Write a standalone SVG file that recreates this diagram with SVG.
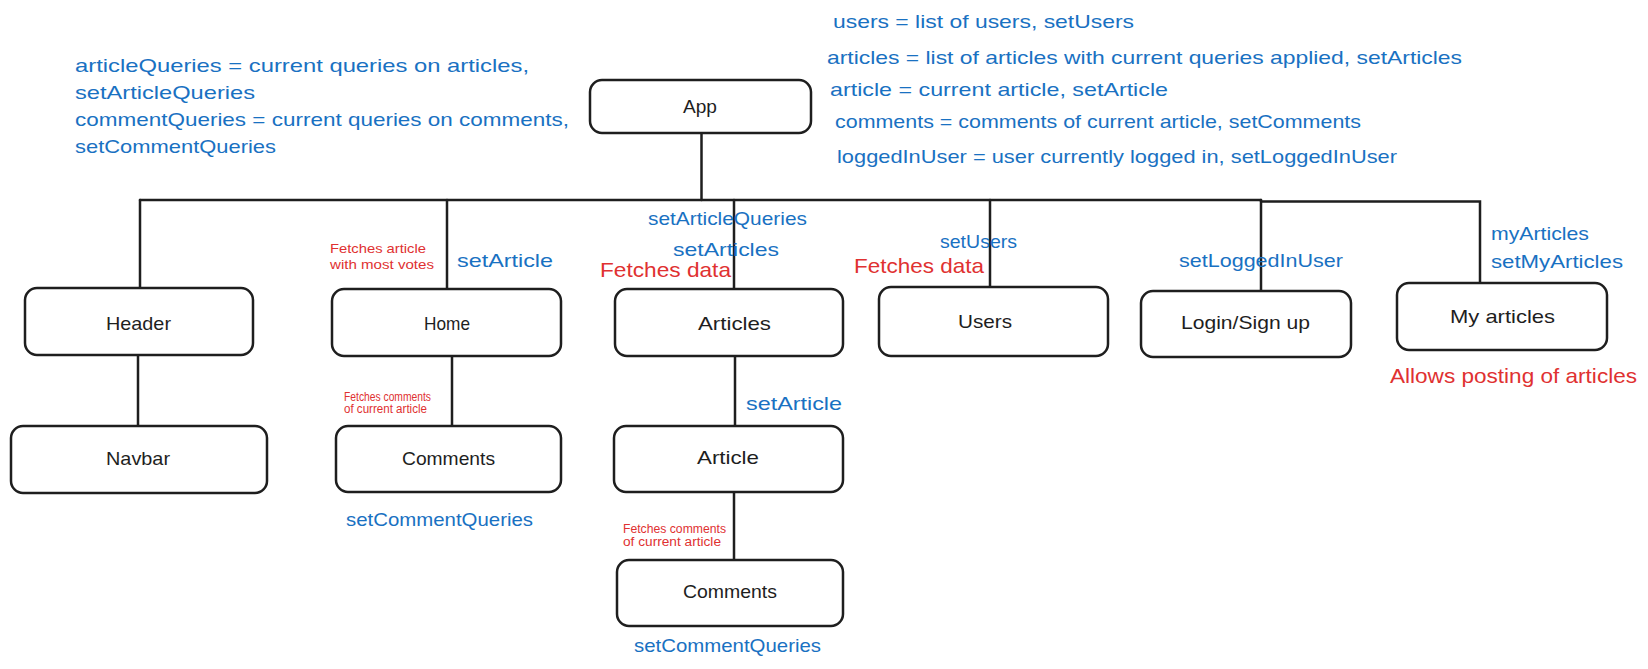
<svg xmlns="http://www.w3.org/2000/svg" width="1648" height="669" viewBox="0 0 1648 669">
<style>
.box{fill:#fff;stroke:#1e1e1e;stroke-width:2.5;}
.ln{fill:none;stroke:#1e1e1e;stroke-width:2.5;stroke-linecap:round;}
text{font-family:"Liberation Sans",Arial,sans-serif;}
.lbl{fill:#1e1e1e;font-size:19px;}
.blue{fill:#1971c2;font-size:19px;}
.red{fill:#e03131;font-size:21px;}
.tiny{fill:#e03131;font-size:12px;}
.small{fill:#e03131;font-size:13px;}
</style>
<rect width="1648" height="669" fill="#fff"/>

<g id="notes">
<text class="blue" x="75" y="72" textLength="454" lengthAdjust="spacingAndGlyphs">articleQueries = current queries on articles,</text>
<text class="blue" x="75" y="99" textLength="180" lengthAdjust="spacingAndGlyphs">setArticleQueries</text>
<text class="blue" x="75" y="126" textLength="494" lengthAdjust="spacingAndGlyphs">commentQueries = current queries on comments,</text>
<text class="blue" x="75" y="153" textLength="201" lengthAdjust="spacingAndGlyphs">setCommentQueries</text>
<text class="blue" x="833" y="28" textLength="301" lengthAdjust="spacingAndGlyphs">users = list of users, setUsers</text>
<text class="blue" x="827" y="64" textLength="635" lengthAdjust="spacingAndGlyphs">articles = list of articles with current queries applied, setArticles</text>
<text class="blue" x="830" y="96" textLength="338" lengthAdjust="spacingAndGlyphs">article = current article, setArticle</text>
<text class="blue" x="835" y="128" textLength="526" lengthAdjust="spacingAndGlyphs">comments = comments of current article, setComments</text>
<text class="blue" x="837" y="163" textLength="560" lengthAdjust="spacingAndGlyphs">loggedInUser = user currently logged in, setLoggedInUser</text>
</g>

<g id="connectors">
<path class="ln" d="M701.5 133 V200"/>
<path class="ln" d="M140 200 H1261"/>
<path class="ln" d="M1261 201.5 H1480 V282"/>
<path class="ln" d="M140 200 V287"/>
<path class="ln" d="M447 200 V289"/>
<path class="ln" d="M734 200 V289"/>
<path class="ln" d="M990 200 V287"/>
<path class="ln" d="M1261 200 V290"/>
<path class="ln" d="M138 356 V426"/>
<path class="ln" d="M452 356 V426"/>
<path class="ln" d="M735 356 V426"/>
<path class="ln" d="M734 493 V559"/>
</g>

<g id="connector-labels">
<text class="blue" x="648" y="225" textLength="159" lengthAdjust="spacingAndGlyphs">setArticleQueries</text>
<text class="blue" x="673" y="256" textLength="106" lengthAdjust="spacingAndGlyphs">setArticles</text>
<text class="red" x="600" y="277" textLength="131" lengthAdjust="spacingAndGlyphs">Fetches data</text>
<text class="small" x="330" y="253" textLength="96" lengthAdjust="spacingAndGlyphs">Fetches article</text>
<text class="small" x="330" y="269" textLength="104" lengthAdjust="spacingAndGlyphs">with most votes</text>
<text class="blue" x="457" y="267" textLength="96" lengthAdjust="spacingAndGlyphs">setArticle</text>
<text class="blue" x="940" y="248" textLength="77" lengthAdjust="spacingAndGlyphs">setUsers</text>
<text class="red" x="854" y="273" textLength="130" lengthAdjust="spacingAndGlyphs">Fetches data</text>
<text class="blue" x="1179" y="267" textLength="164" lengthAdjust="spacingAndGlyphs">setLoggedInUser</text>
<text class="blue" x="1491" y="240" textLength="98" lengthAdjust="spacingAndGlyphs">myArticles</text>
<text class="blue" x="1491" y="268" textLength="132" lengthAdjust="spacingAndGlyphs">setMyArticles</text>
<text class="red" x="1390" y="383" textLength="247" lengthAdjust="spacingAndGlyphs">Allows posting of articles</text>
<text class="tiny" x="344" y="401" textLength="87" lengthAdjust="spacingAndGlyphs">Fetches comments</text>
<text class="tiny" x="344" y="413" textLength="83" lengthAdjust="spacingAndGlyphs">of current article</text>
<text class="blue" x="346" y="526" textLength="187" lengthAdjust="spacingAndGlyphs">setCommentQueries</text>
<text class="blue" x="746" y="410" textLength="96" lengthAdjust="spacingAndGlyphs">setArticle</text>
<text class="tiny" x="623" y="533" textLength="103" lengthAdjust="spacingAndGlyphs">Fetches comments</text>
<text class="tiny" x="623" y="546" textLength="98" lengthAdjust="spacingAndGlyphs">of current article</text>
<text class="blue" x="634" y="652" textLength="187" lengthAdjust="spacingAndGlyphs">setCommentQueries</text>
</g>

<g id="node-app">
<rect class="box" x="590" y="80" width="221" height="53" rx="12"/>
<text class="lbl" x="683" y="113" textLength="34" lengthAdjust="spacingAndGlyphs">App</text>
</g>
<g id="node-header">
<rect class="box" x="25" y="288" width="228" height="67" rx="12"/>
<text class="lbl" x="106" y="330" textLength="65" lengthAdjust="spacingAndGlyphs">Header</text>
</g>
<g id="node-home">
<rect class="box" x="332" y="289" width="229" height="67" rx="12"/>
<text class="lbl" x="424" y="330" textLength="46" lengthAdjust="spacingAndGlyphs">Home</text>
</g>
<g id="node-articles">
<rect class="box" x="615" y="289" width="228" height="67" rx="12"/>
<text class="lbl" x="698" y="330" textLength="73" lengthAdjust="spacingAndGlyphs">Articles</text>
</g>
<g id="node-users">
<rect class="box" x="879" y="287" width="229" height="69" rx="12"/>
<text class="lbl" x="958" y="328" textLength="54" lengthAdjust="spacingAndGlyphs">Users</text>
</g>
<g id="node-login">
<rect class="box" x="1141" y="291" width="210" height="66" rx="12"/>
<text class="lbl" x="1181" y="329" textLength="129" lengthAdjust="spacingAndGlyphs">Login/Sign up</text>
</g>
<g id="node-myarticles">
<rect class="box" x="1397" y="283" width="210" height="67" rx="12"/>
<text class="lbl" x="1450" y="323" textLength="105" lengthAdjust="spacingAndGlyphs">My articles</text>
</g>
<g id="node-navbar">
<rect class="box" x="11" y="426" width="256" height="67" rx="12"/>
<text class="lbl" x="106" y="465" textLength="64" lengthAdjust="spacingAndGlyphs">Navbar</text>
</g>
<g id="node-home-comments">
<rect class="box" x="336" y="426" width="225" height="66" rx="12"/>
<text class="lbl" x="402" y="465" textLength="93" lengthAdjust="spacingAndGlyphs">Comments</text>
</g>
<g id="node-article">
<rect class="box" x="614" y="426" width="229" height="66" rx="12"/>
<text class="lbl" x="697" y="464" textLength="62" lengthAdjust="spacingAndGlyphs">Article</text>
</g>
<g id="node-article-comments">
<rect class="box" x="617" y="560" width="226" height="66" rx="12"/>
<text class="lbl" x="683" y="598" textLength="94" lengthAdjust="spacingAndGlyphs">Comments</text>
</g>
</svg>
